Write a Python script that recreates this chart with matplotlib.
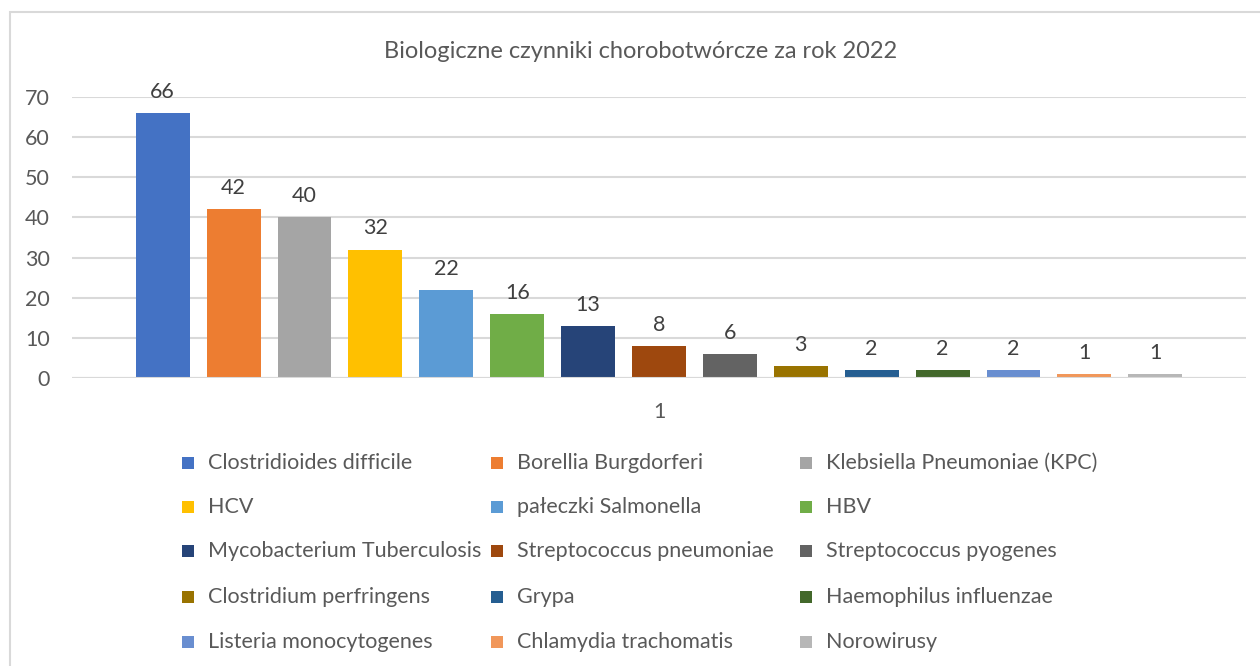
import matplotlib.pyplot as plt
from matplotlib.patches import Rectangle

plt.rcParams['font.family'] = ['Lato', 'DejaVu Sans']

# Data
title = 'Biologiczne czynniki chorobotwórcze za rok 2022'
category = '1'
series = ['Clostridioides difficile', 'Borellia Burgdorferi', 'Klebsiella Pneumoniae (KPC)',
          'HCV', 'pałeczki Salmonella', 'HBV',
          'Mycobacterium Tuberculosis', 'Streptococcus pneumoniae', 'Streptococcus pyogenes',
          'Clostridium perfringens', 'Grypa', 'Haemophilus influenzae',
          'Listeria monocytogenes', 'Chlamydia trachomatis', 'Norowirusy']
values = [66, 42, 40, 32, 22, 16, 13, 8, 6, 3, 2, 2, 2, 1, 1]
colors = ['#4472C4', '#ED7D31', '#A5A5A5', '#FFC000', '#5B9BD5', '#70AD47',
          '#264478', '#9E480E', '#636363', '#997300', '#255E91', '#43682B',
          '#698ED0', '#F1975A', '#B7B7B7']
yticks = [0, 10, 20, 30, 40, 50, 60, 70]

text_color = '#595959'
grid_color = '#D9D9D9'

fig = plt.figure(figsize=(12.6, 6.66), dpi=100)

# chart border (Excel chart area)
fig.add_artist(Rectangle((10 / 1260, -0.01), 1.1, 1 - 12 / 666 + 0.01,
                         transform=fig.transFigure, fill=False,
                         edgecolor='#D9D9D9', linewidth=1.5))

ax = fig.add_axes([72 / 1260, 288 / 666, (1246 - 72) / 1260, (569 - 288) / 666])

x = list(range(len(values)))
bars = ax.bar(x, values, width=0.76, color=colors, zorder=3)
for xi, v in zip(x, values):
    ax.annotate(str(v), (xi, v), xytext=(0, 8), textcoords='offset points',
                ha='center', va='bottom', fontsize=15.5, color='#404040')

ax.set_xlim(-1.28, len(values) - 1 + 1.28)
ax.set_ylim(0, 70)
ax.set_yticks(yticks)
ax.tick_params(axis='y', length=0, labelsize=15.5, labelcolor=text_color, pad=16)
ax.set_xticks([7])
ax.set_xticklabels([category])
ax.tick_params(axis='x', length=0, labelsize=15.5, labelcolor=text_color, pad=17)
ax.grid(axis='y', color=grid_color, linewidth=1.5, zorder=0)
for s in ax.spines.values():
    s.set_visible(False)
ax.axhline(0, color=grid_color, linewidth=1.5, zorder=4)

fig.text(641 / 1260, 1 - 52 / 666, title, ha='center', va='center',
         fontsize=17, color=text_color)

# legend: 3 columns, filled row by row
col_x = [188, 497, 806]
row_y = [463, 507, 551, 597, 642]
for i, (name, c) in enumerate(zip(series, colors)):
    px = col_x[i % 3]
    py = row_y[i // 3]
    fig.add_artist(Rectangle(((px - 6) / 1260, 1 - (py + 6) / 666), 12 / 1260, 12 / 666,
                             transform=fig.transFigure, facecolor=c, edgecolor='none'))
    fig.text((px + 20) / 1260, 1 - py / 666, name, ha='left', va='center',
             fontsize=15.5, color=text_color)

fig.savefig('out.png', dpi=100)
